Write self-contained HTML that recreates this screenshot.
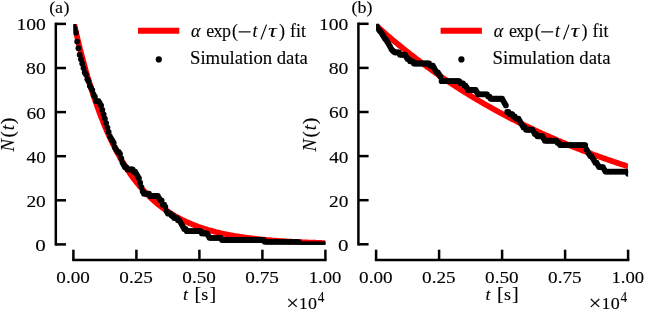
<!DOCTYPE html>
<html><head><meta charset="utf-8"><style>
html,body{margin:0;padding:0;background:#fff;width:646px;height:310px;overflow:hidden}
svg{display:block;will-change:transform}
text{font-family:"Liberation Serif",serif;font-size:17.4px;fill:#000;stroke:#000;stroke-width:0.12px}
.k{stroke:#000;stroke-width:2.5}
</style></head><body>
<svg width="646" height="310" viewBox="0 0 646 310"><line x1="55.8" y1="22.65" x2="55.8" y2="245.65" class="k"/><line x1="55.8" y1="244.40" x2="66.00" y2="244.40" class="k"/><text transform="translate(45.80,250.85) scale(1.0345,1)" text-anchor="end" textLength="10.15" lengthAdjust="spacingAndGlyphs">0</text><line x1="55.8" y1="200.30" x2="66.00" y2="200.30" class="k"/><text transform="translate(45.80,206.75) scale(1.0345,1)" text-anchor="end" textLength="18.75" lengthAdjust="spacingAndGlyphs">20</text><line x1="55.8" y1="156.20" x2="66.00" y2="156.20" class="k"/><text transform="translate(45.80,162.65) scale(1.0345,1)" text-anchor="end" textLength="18.56" lengthAdjust="spacingAndGlyphs">40</text><line x1="55.8" y1="112.10" x2="66.00" y2="112.10" class="k"/><text transform="translate(45.80,118.55) scale(1.0345,1)" text-anchor="end" textLength="18.75" lengthAdjust="spacingAndGlyphs">60</text><line x1="55.8" y1="68.00" x2="66.00" y2="68.00" class="k"/><text transform="translate(45.80,74.45) scale(1.0345,1)" text-anchor="end" textLength="19.04" lengthAdjust="spacingAndGlyphs">80</text><line x1="55.8" y1="23.90" x2="66.00" y2="23.90" class="k"/><text transform="translate(45.80,30.35) scale(1.0345,1)" text-anchor="end" textLength="28.42" lengthAdjust="spacingAndGlyphs">100</text><line x1="72.15" y1="259.9" x2="326.65" y2="259.9" class="k"/><line x1="73.40" y1="259.9" x2="73.40" y2="249.70" class="k"/><text transform="translate(73.10,283.30) scale(1.0345,1)" text-anchor="middle" textLength="32.38" lengthAdjust="spacingAndGlyphs">0.00</text><line x1="136.40" y1="259.9" x2="136.40" y2="249.70" class="k"/><text transform="translate(136.10,283.30) scale(1.0345,1)" text-anchor="middle" textLength="32.38" lengthAdjust="spacingAndGlyphs">0.25</text><line x1="199.40" y1="259.9" x2="199.40" y2="249.70" class="k"/><text transform="translate(199.10,283.30) scale(1.0345,1)" text-anchor="middle" textLength="32.38" lengthAdjust="spacingAndGlyphs">0.50</text><line x1="262.40" y1="259.9" x2="262.40" y2="249.70" class="k"/><text transform="translate(262.10,283.30) scale(1.0345,1)" text-anchor="middle" textLength="32.38" lengthAdjust="spacingAndGlyphs">0.75</text><line x1="325.40" y1="259.9" x2="325.40" y2="249.70" class="k"/><text transform="translate(325.10,283.30) scale(1.0345,1)" text-anchor="middle" textLength="31.61" lengthAdjust="spacingAndGlyphs">1.00</text><clipPath id="ca"><rect x="73.40" y="23.90" width="252.00" height="220.50"/></clipPath><g clip-path="url(#ca)"><polyline points="73.4,20.6 74.2,24.4 75.1,28.1 75.9,31.8 76.8,35.4 77.6,38.9 78.5,42.4 79.3,45.9 80.1,49.2 81.0,52.5 81.8,55.8 82.7,59.0 83.5,62.1 84.4,65.2 85.2,68.3 86.0,71.2 86.9,74.2 87.7,77.1 88.6,79.9 89.4,82.7 90.3,85.4 91.1,88.1 91.9,90.8 92.8,93.4 93.6,96.0 94.5,98.5 95.3,100.9 96.2,103.4 97.0,105.8 97.8,108.1 98.7,110.4 99.5,112.7 100.4,114.9 101.2,117.1 102.1,119.3 102.9,121.4 103.7,123.5 104.6,125.6 105.4,127.6 106.3,129.6 107.1,131.5 108.0,133.4 108.8,135.3 109.6,137.1 110.5,139.0 111.3,140.8 112.2,142.5 113.0,144.2 113.9,145.9 114.7,147.6 115.5,149.3 116.4,150.9 117.2,152.5 118.1,154.0 118.9,155.5 119.8,157.1 120.6,158.5 121.4,160.0 122.3,161.4 123.1,162.8 124.0,164.2 124.8,165.6 125.7,166.9 126.5,168.2 127.3,169.5 128.2,170.8 129.0,172.0 129.9,173.3 130.7,174.5 131.6,175.7 132.4,176.8 133.2,178.0 134.1,179.1 134.9,180.2 135.8,181.3 136.6,182.4 137.5,183.4 138.3,184.4 139.1,185.5 140.0,186.5 140.8,187.4 141.7,188.4 142.5,189.4 143.4,190.3 144.2,191.2 145.0,192.1 145.9,193.0 146.7,193.9 147.6,194.7 148.4,195.6 149.3,196.4 150.1,197.2 150.9,198.0 151.8,198.8 152.6,199.6 153.5,200.3 154.3,201.1 155.2,201.8 156.0,202.5 156.8,203.3 157.7,204.0 158.5,204.6 159.4,205.3 160.2,206.0 161.1,206.6 161.9,207.3 162.7,207.9 163.6,208.5 164.4,209.1 165.3,209.7 166.1,210.3 167.0,210.9 167.8,211.5 168.6,212.0 169.5,212.6 170.3,213.1 171.2,213.6 172.0,214.2 172.9,214.7 173.7,215.2 174.5,215.7 175.4,216.2 176.2,216.6 177.1,217.1 177.9,217.6 178.8,218.0 179.6,218.5 180.4,218.9 181.3,219.3 182.1,219.8 183.0,220.2 183.8,220.6 184.7,221.0 185.5,221.4 186.3,221.8 187.2,222.2 188.0,222.6 188.9,222.9 189.7,223.3 190.6,223.6 191.4,224.0 192.2,224.3 193.1,224.7 193.9,225.0 194.8,225.3 195.6,225.7 196.5,226.0 197.3,226.3 198.1,226.6 199.0,226.9 199.8,227.2 200.7,227.5 201.5,227.8 202.3,228.1 203.2,228.3 204.0,228.6 204.9,228.9 205.7,229.1 206.6,229.4 207.4,229.7 208.2,229.9 209.1,230.2 209.9,230.4 210.8,230.6 211.6,230.9 212.5,231.1 213.3,231.3 214.1,231.5 215.0,231.8 215.8,232.0 216.7,232.2 217.5,232.4 218.4,232.6 219.2,232.8 220.0,233.0 220.9,233.2 221.7,233.4 222.6,233.6 223.4,233.7 224.3,233.9 225.1,234.1 225.9,234.3 226.8,234.5 227.6,234.6 228.5,234.8 229.3,235.0 230.2,235.1 231.0,235.3 231.8,235.4 232.7,235.6 233.5,235.7 234.4,235.9 235.2,236.0 236.1,236.2 236.9,236.3 237.7,236.4 238.6,236.6 239.4,236.7 240.3,236.8 241.1,237.0 242.0,237.1 242.8,237.2 243.6,237.3 244.5,237.5 245.3,237.6 246.2,237.7 247.0,237.8 247.9,237.9 248.7,238.0 249.5,238.1 250.4,238.2 251.2,238.3 252.1,238.4 252.9,238.5 253.8,238.6 254.6,238.7 255.4,238.8 256.3,238.9 257.1,239.0 258.0,239.1 258.8,239.2 259.7,239.3 260.5,239.4 261.3,239.5 262.2,239.6 263.0,239.6 263.9,239.7 264.7,239.8 265.6,239.9 266.4,239.9 267.2,240.0 268.1,240.1 268.9,240.2 269.8,240.2 270.6,240.3 271.5,240.4 272.3,240.5 273.1,240.5 274.0,240.6 274.8,240.6 275.7,240.7 276.5,240.8 277.4,240.8 278.2,240.9 279.0,241.0 279.9,241.0 280.7,241.1 281.6,241.1 282.4,241.2 283.3,241.2 284.1,241.3 284.9,241.3 285.8,241.4 286.6,241.4 287.5,241.5 288.3,241.5 289.2,241.6 290.0,241.6 290.8,241.7 291.7,241.7 292.5,241.8 293.4,241.8 294.2,241.9 295.1,241.9 295.9,242.0 296.7,242.0 297.6,242.0 298.4,242.1 299.3,242.1 300.1,242.2 301.0,242.2 301.8,242.2 302.6,242.3 303.5,242.3 304.3,242.3 305.2,242.4 306.0,242.4 306.9,242.4 307.7,242.5 308.5,242.5 309.4,242.5 310.2,242.6 311.1,242.6 311.9,242.6 312.8,242.7 313.6,242.7 314.4,242.7 315.3,242.7 316.1,242.8 317.0,242.8 317.8,242.8 318.7,242.9 319.5,242.9 320.3,242.9 321.2,242.9 322.0,243.0 322.9,243.0 323.7,243.0 324.6,243.0 325.4,243.1" fill="none" stroke="#f00" stroke-width="5.7"/><circle cx="73.40" cy="23.90" r="2.9"/><circle cx="74.66" cy="28.31" r="2.9"/><circle cx="75.92" cy="32.72" r="2.9"/><circle cx="77.18" cy="41.54" r="2.9"/><circle cx="78.44" cy="48.16" r="2.9"/><circle cx="79.70" cy="54.77" r="2.9"/><circle cx="80.96" cy="59.18" r="2.9"/><circle cx="82.22" cy="63.59" r="2.9"/><circle cx="83.48" cy="68.00" r="2.9"/><circle cx="84.74" cy="72.41" r="2.9"/><circle cx="86.00" cy="74.62" r="2.9"/><circle cx="87.26" cy="79.03" r="2.9"/><circle cx="88.52" cy="81.23" r="2.9"/><circle cx="89.78" cy="85.64" r="2.9"/><circle cx="91.04" cy="87.84" r="2.9"/><circle cx="92.30" cy="90.05" r="2.9"/><circle cx="93.56" cy="94.46" r="2.9"/><circle cx="94.82" cy="96.66" r="2.9"/><circle cx="96.08" cy="101.07" r="2.9"/><circle cx="97.34" cy="101.07" r="2.9"/><circle cx="98.60" cy="101.07" r="2.9"/><circle cx="99.86" cy="103.28" r="2.9"/><circle cx="101.12" cy="105.49" r="2.9"/><circle cx="102.38" cy="109.90" r="2.9"/><circle cx="103.64" cy="114.31" r="2.9"/><circle cx="104.90" cy="118.72" r="2.9"/><circle cx="106.16" cy="123.12" r="2.9"/><circle cx="107.42" cy="127.53" r="2.9"/><circle cx="108.68" cy="131.94" r="2.9"/><circle cx="109.94" cy="136.36" r="2.9"/><circle cx="111.20" cy="138.56" r="2.9"/><circle cx="112.46" cy="140.76" r="2.9"/><circle cx="113.72" cy="142.97" r="2.9"/><circle cx="114.98" cy="147.38" r="2.9"/><circle cx="116.24" cy="149.59" r="2.9"/><circle cx="117.50" cy="151.79" r="2.9"/><circle cx="118.76" cy="151.79" r="2.9"/><circle cx="120.02" cy="154.00" r="2.9"/><circle cx="121.28" cy="158.41" r="2.9"/><circle cx="122.54" cy="162.81" r="2.9"/><circle cx="123.80" cy="165.02" r="2.9"/><circle cx="125.06" cy="167.23" r="2.9"/><circle cx="126.32" cy="167.23" r="2.9"/><circle cx="127.58" cy="169.43" r="2.9"/><circle cx="128.84" cy="169.43" r="2.9"/><circle cx="130.10" cy="169.43" r="2.9"/><circle cx="131.36" cy="169.43" r="2.9"/><circle cx="132.62" cy="169.43" r="2.9"/><circle cx="133.88" cy="171.63" r="2.9"/><circle cx="135.14" cy="171.63" r="2.9"/><circle cx="136.40" cy="173.84" r="2.9"/><circle cx="137.66" cy="176.05" r="2.9"/><circle cx="138.92" cy="178.25" r="2.9"/><circle cx="140.18" cy="182.66" r="2.9"/><circle cx="141.44" cy="187.07" r="2.9"/><circle cx="142.70" cy="191.48" r="2.9"/><circle cx="143.96" cy="193.69" r="2.9"/><circle cx="145.22" cy="193.69" r="2.9"/><circle cx="146.48" cy="193.69" r="2.9"/><circle cx="147.74" cy="193.69" r="2.9"/><circle cx="149.00" cy="193.69" r="2.9"/><circle cx="150.26" cy="195.89" r="2.9"/><circle cx="151.52" cy="195.89" r="2.9"/><circle cx="152.78" cy="195.89" r="2.9"/><circle cx="154.04" cy="195.89" r="2.9"/><circle cx="155.30" cy="195.89" r="2.9"/><circle cx="156.56" cy="195.89" r="2.9"/><circle cx="157.82" cy="195.89" r="2.9"/><circle cx="159.08" cy="198.09" r="2.9"/><circle cx="160.34" cy="200.30" r="2.9"/><circle cx="161.60" cy="200.30" r="2.9"/><circle cx="162.86" cy="204.71" r="2.9"/><circle cx="164.12" cy="204.71" r="2.9"/><circle cx="165.38" cy="206.92" r="2.9"/><circle cx="166.64" cy="211.32" r="2.9"/><circle cx="167.90" cy="213.53" r="2.9"/><circle cx="169.16" cy="213.53" r="2.9"/><circle cx="170.42" cy="213.53" r="2.9"/><circle cx="171.68" cy="215.74" r="2.9"/><circle cx="172.94" cy="215.74" r="2.9"/><circle cx="174.20" cy="217.94" r="2.9"/><circle cx="175.46" cy="217.94" r="2.9"/><circle cx="176.72" cy="217.94" r="2.9"/><circle cx="177.98" cy="220.15" r="2.9"/><circle cx="179.24" cy="220.15" r="2.9"/><circle cx="180.50" cy="222.35" r="2.9"/><circle cx="181.76" cy="224.56" r="2.9"/><circle cx="183.02" cy="226.76" r="2.9"/><circle cx="184.28" cy="228.97" r="2.9"/><circle cx="185.54" cy="228.97" r="2.9"/><circle cx="186.80" cy="231.17" r="2.9"/><circle cx="188.06" cy="231.17" r="2.9"/><circle cx="189.32" cy="231.17" r="2.9"/><circle cx="190.58" cy="231.17" r="2.9"/><circle cx="191.84" cy="231.17" r="2.9"/><circle cx="193.10" cy="231.17" r="2.9"/><circle cx="194.36" cy="231.17" r="2.9"/><circle cx="195.62" cy="231.17" r="2.9"/><circle cx="196.88" cy="231.17" r="2.9"/><circle cx="198.14" cy="231.17" r="2.9"/><circle cx="199.40" cy="231.17" r="2.9"/><circle cx="200.66" cy="231.17" r="2.9"/><circle cx="201.92" cy="233.38" r="2.9"/><circle cx="203.18" cy="233.38" r="2.9"/><circle cx="204.44" cy="233.38" r="2.9"/><circle cx="205.70" cy="233.38" r="2.9"/><circle cx="206.96" cy="233.38" r="2.9"/><circle cx="208.22" cy="235.58" r="2.9"/><circle cx="209.48" cy="237.78" r="2.9"/><circle cx="210.74" cy="237.78" r="2.9"/><circle cx="212.00" cy="237.78" r="2.9"/><circle cx="213.26" cy="237.78" r="2.9"/><circle cx="214.52" cy="237.78" r="2.9"/><circle cx="215.78" cy="237.78" r="2.9"/><circle cx="217.04" cy="237.78" r="2.9"/><circle cx="218.30" cy="237.78" r="2.9"/><circle cx="219.56" cy="237.78" r="2.9"/><circle cx="220.82" cy="237.78" r="2.9"/><circle cx="222.08" cy="239.99" r="2.9"/><circle cx="223.34" cy="239.99" r="2.9"/><circle cx="224.60" cy="239.99" r="2.9"/><circle cx="225.86" cy="239.99" r="2.9"/><circle cx="227.12" cy="239.99" r="2.9"/><circle cx="228.38" cy="239.99" r="2.9"/><circle cx="229.64" cy="239.99" r="2.9"/><circle cx="230.90" cy="239.99" r="2.9"/><circle cx="232.16" cy="239.99" r="2.9"/><circle cx="233.42" cy="239.99" r="2.9"/><circle cx="234.68" cy="239.99" r="2.9"/><circle cx="235.94" cy="239.99" r="2.9"/><circle cx="237.20" cy="239.99" r="2.9"/><circle cx="238.46" cy="239.99" r="2.9"/><circle cx="239.72" cy="239.99" r="2.9"/><circle cx="240.98" cy="239.99" r="2.9"/><circle cx="242.24" cy="239.99" r="2.9"/><circle cx="243.50" cy="239.99" r="2.9"/><circle cx="244.76" cy="239.99" r="2.9"/><circle cx="246.02" cy="239.99" r="2.9"/><circle cx="247.28" cy="239.99" r="2.9"/><circle cx="248.54" cy="239.99" r="2.9"/><circle cx="249.80" cy="239.99" r="2.9"/><circle cx="251.06" cy="239.99" r="2.9"/><circle cx="252.32" cy="239.99" r="2.9"/><circle cx="253.58" cy="239.99" r="2.9"/><circle cx="254.84" cy="239.99" r="2.9"/><circle cx="256.10" cy="239.99" r="2.9"/><circle cx="257.36" cy="239.99" r="2.9"/><circle cx="258.62" cy="239.99" r="2.9"/><circle cx="259.88" cy="239.99" r="2.9"/><circle cx="261.14" cy="239.99" r="2.9"/><circle cx="262.40" cy="239.99" r="2.9"/><circle cx="263.66" cy="239.99" r="2.9"/><circle cx="264.92" cy="242.19" r="2.9"/><circle cx="266.18" cy="242.19" r="2.9"/><circle cx="267.44" cy="242.19" r="2.9"/><circle cx="268.70" cy="242.19" r="2.9"/><circle cx="269.96" cy="242.19" r="2.9"/><circle cx="271.22" cy="242.19" r="2.9"/><circle cx="272.48" cy="242.19" r="2.9"/><circle cx="273.74" cy="242.19" r="2.9"/><circle cx="275.00" cy="242.19" r="2.9"/><circle cx="276.26" cy="242.19" r="2.9"/><circle cx="277.52" cy="242.19" r="2.9"/><circle cx="278.78" cy="242.19" r="2.9"/><circle cx="280.04" cy="242.19" r="2.9"/><circle cx="281.30" cy="242.19" r="2.9"/><circle cx="282.56" cy="242.19" r="2.9"/><circle cx="283.82" cy="242.19" r="2.9"/><circle cx="285.08" cy="242.19" r="2.9"/><circle cx="286.34" cy="242.19" r="2.9"/><circle cx="287.60" cy="242.19" r="2.9"/><circle cx="288.86" cy="242.19" r="2.9"/><circle cx="290.12" cy="242.19" r="2.9"/><circle cx="291.38" cy="242.19" r="2.9"/><circle cx="292.64" cy="242.19" r="2.9"/><circle cx="293.90" cy="242.19" r="2.9"/><circle cx="295.16" cy="242.19" r="2.9"/><circle cx="296.42" cy="242.19" r="2.9"/><circle cx="297.68" cy="242.19" r="2.9"/><circle cx="298.94" cy="242.19" r="2.9"/><circle cx="300.20" cy="244.40" r="2.9"/><circle cx="301.46" cy="244.40" r="2.9"/><circle cx="302.72" cy="244.40" r="2.9"/><circle cx="303.98" cy="244.40" r="2.9"/><circle cx="305.24" cy="244.40" r="2.9"/><circle cx="306.50" cy="244.40" r="2.9"/><circle cx="307.76" cy="244.40" r="2.9"/><circle cx="309.02" cy="244.40" r="2.9"/><circle cx="310.28" cy="244.40" r="2.9"/><circle cx="311.54" cy="244.40" r="2.9"/><circle cx="312.80" cy="244.40" r="2.9"/><circle cx="314.06" cy="244.40" r="2.9"/><circle cx="315.32" cy="244.40" r="2.9"/><circle cx="316.58" cy="244.40" r="2.9"/><circle cx="317.84" cy="244.40" r="2.9"/><circle cx="319.10" cy="244.40" r="2.9"/><circle cx="320.36" cy="244.40" r="2.9"/><circle cx="321.62" cy="244.40" r="2.9"/><circle cx="322.88" cy="244.40" r="2.9"/><circle cx="324.14" cy="244.40" r="2.9"/><circle cx="325.40" cy="244.40" r="2.9"/></g><text transform="translate(182.95,300.00) scale(1.0345,1)" font-style="italic">t</text><text transform="translate(194.40,300.00) scale(1.0345,1)" style="font-size:19.5px">[</text><text transform="translate(201.30,300.00) scale(1.0345,1)">s</text><text transform="translate(209.50,300.00) scale(1.0345,1)" style="font-size:19.5px">]</text><text transform="translate(286.20,310.20) scale(1.1000,1)" style="font-size:20.3px">×</text><text transform="translate(298.80,308.70) scale(1.0345,1)">1</text><text transform="translate(308.05,308.70) scale(1.0345,1)">0</text><text transform="translate(317.80,302.10) scale(0.8800,1)" style="font-size:15.1px">4</text><g transform="translate(13.60,151.5) rotate(-90)"><text transform="translate(0.00,0.00) scale(1.0345,1)" style="font-size:18px" font-style="italic">N</text><text transform="translate(13.90,0.00) scale(1.0345,1)" style="font-size:18px">(</text><text transform="translate(21.25,0.00) scale(1.0345,1)" style="font-size:18px" font-style="italic">t</text><text transform="translate(27.60,0.00) scale(1.0345,1)" style="font-size:18px">)</text></g><text transform="translate(49.30,12.80) scale(1.0345,1)">(</text><text transform="translate(55.00,12.80) scale(1.0345,1)">a</text><text transform="translate(63.40,12.80) scale(1.0345,1)">)</text><line x1="138.0" y1="30.8" x2="179.3" y2="30.8" stroke="#f00" stroke-width="6"/><text transform="translate(191.10,36.80) scale(1.0000,1)" style="font-size:18px" font-style="italic">α</text><text transform="translate(206.35,36.80) scale(1.0000,1)" style="font-size:18px">e</text><text transform="translate(213.50,36.80) scale(1.0000,1)" style="font-size:18px">x</text><text transform="translate(222.00,36.80) scale(1.0000,1)" style="font-size:18px">p</text><text transform="translate(232.10,36.80) scale(1.0000,1)" style="font-size:18px">(</text><rect x="238.60" y="31.3" width="12" height="1.15"/><text transform="translate(252.40,36.80) scale(1.0000,1)" style="font-size:18px" font-style="italic">t</text><line x1="266.50" y1="24.6" x2="260.90" y2="39.5" stroke="#000" stroke-width="1.1"/><text transform="translate(268.20,36.80) scale(1.3000,1)" style="font-size:18px" font-style="italic">τ</text><text transform="translate(278.90,36.80) scale(1.0000,1)" style="font-size:18px">)</text><text transform="translate(290.00,36.80) scale(1.0000,1)" style="font-size:18px">fit</text><circle cx="158.8" cy="59.4" r="3.1"/><text transform="translate(190.00,64.30) scale(1.0000,1)" textLength="117.90" lengthAdjust="spacingAndGlyphs" style="font-size:18px">Simulation data</text><line x1="358.4" y1="22.55" x2="358.4" y2="245.55" class="k"/><line x1="358.4" y1="244.30" x2="368.60" y2="244.30" class="k"/><text transform="translate(348.40,250.75) scale(1.0345,1)" text-anchor="end" textLength="10.15" lengthAdjust="spacingAndGlyphs">0</text><line x1="358.4" y1="200.20" x2="368.60" y2="200.20" class="k"/><text transform="translate(348.40,206.65) scale(1.0345,1)" text-anchor="end" textLength="18.75" lengthAdjust="spacingAndGlyphs">20</text><line x1="358.4" y1="156.10" x2="368.60" y2="156.10" class="k"/><text transform="translate(348.40,162.55) scale(1.0345,1)" text-anchor="end" textLength="18.56" lengthAdjust="spacingAndGlyphs">40</text><line x1="358.4" y1="112.00" x2="368.60" y2="112.00" class="k"/><text transform="translate(348.40,118.45) scale(1.0345,1)" text-anchor="end" textLength="18.75" lengthAdjust="spacingAndGlyphs">60</text><line x1="358.4" y1="67.90" x2="368.60" y2="67.90" class="k"/><text transform="translate(348.40,74.35) scale(1.0345,1)" text-anchor="end" textLength="19.04" lengthAdjust="spacingAndGlyphs">80</text><line x1="358.4" y1="23.80" x2="368.60" y2="23.80" class="k"/><text transform="translate(348.40,30.25) scale(1.0345,1)" text-anchor="end" textLength="28.42" lengthAdjust="spacingAndGlyphs">100</text><line x1="374.85" y1="259.9" x2="629.35" y2="259.9" class="k"/><line x1="376.10" y1="259.9" x2="376.10" y2="249.70" class="k"/><text transform="translate(375.80,283.30) scale(1.0345,1)" text-anchor="middle" textLength="32.38" lengthAdjust="spacingAndGlyphs">0.00</text><line x1="439.10" y1="259.9" x2="439.10" y2="249.70" class="k"/><text transform="translate(438.80,283.30) scale(1.0345,1)" text-anchor="middle" textLength="32.38" lengthAdjust="spacingAndGlyphs">0.25</text><line x1="502.10" y1="259.9" x2="502.10" y2="249.70" class="k"/><text transform="translate(501.80,283.30) scale(1.0345,1)" text-anchor="middle" textLength="32.38" lengthAdjust="spacingAndGlyphs">0.50</text><line x1="565.10" y1="259.9" x2="565.10" y2="249.70" class="k"/><text transform="translate(564.80,283.30) scale(1.0345,1)" text-anchor="middle" textLength="32.38" lengthAdjust="spacingAndGlyphs">0.75</text><line x1="628.10" y1="259.9" x2="628.10" y2="249.70" class="k"/><text transform="translate(627.80,283.30) scale(1.0345,1)" text-anchor="middle" textLength="31.61" lengthAdjust="spacingAndGlyphs">1.00</text><clipPath id="cb"><rect x="376.10" y="23.80" width="252.00" height="220.50"/></clipPath><g clip-path="url(#cb)"><polyline points="376.1,25.5 376.9,26.2 377.8,27.0 378.6,27.7 379.5,28.5 380.3,29.2 381.2,30.0 382.0,30.7 382.8,31.4 383.7,32.2 384.5,32.9 385.4,33.6 386.2,34.4 387.1,35.1 387.9,35.8 388.7,36.5 389.6,37.2 390.4,38.0 391.3,38.7 392.1,39.4 393.0,40.1 393.8,40.8 394.6,41.5 395.5,42.2 396.3,42.9 397.2,43.6 398.0,44.3 398.9,45.0 399.7,45.7 400.5,46.3 401.4,47.0 402.2,47.7 403.1,48.4 403.9,49.1 404.8,49.7 405.6,50.4 406.4,51.1 407.3,51.7 408.1,52.4 409.0,53.1 409.8,53.7 410.7,54.4 411.5,55.0 412.3,55.7 413.2,56.3 414.0,57.0 414.9,57.6 415.7,58.3 416.6,58.9 417.4,59.6 418.2,60.2 419.1,60.8 419.9,61.5 420.8,62.1 421.6,62.7 422.5,63.4 423.3,64.0 424.1,64.6 425.0,65.2 425.8,65.8 426.7,66.5 427.5,67.1 428.4,67.7 429.2,68.3 430.0,68.9 430.9,69.5 431.7,70.1 432.6,70.7 433.4,71.3 434.3,71.9 435.1,72.5 435.9,73.1 436.8,73.7 437.6,74.3 438.5,74.9 439.3,75.4 440.2,76.0 441.0,76.6 441.8,77.2 442.7,77.8 443.5,78.3 444.4,78.9 445.2,79.5 446.1,80.0 446.9,80.6 447.7,81.2 448.6,81.7 449.4,82.3 450.3,82.9 451.1,83.4 452.0,84.0 452.8,84.5 453.6,85.1 454.5,85.6 455.3,86.2 456.2,86.7 457.0,87.3 457.9,87.8 458.7,88.3 459.5,88.9 460.4,89.4 461.2,89.9 462.1,90.5 462.9,91.0 463.8,91.5 464.6,92.1 465.4,92.6 466.3,93.1 467.1,93.6 468.0,94.2 468.8,94.7 469.7,95.2 470.5,95.7 471.3,96.2 472.2,96.7 473.0,97.2 473.9,97.7 474.7,98.3 475.6,98.8 476.4,99.3 477.2,99.8 478.1,100.3 478.9,100.8 479.8,101.2 480.6,101.7 481.5,102.2 482.3,102.7 483.1,103.2 484.0,103.7 484.8,104.2 485.7,104.7 486.5,105.1 487.4,105.6 488.2,106.1 489.0,106.6 489.9,107.1 490.7,107.5 491.6,108.0 492.4,108.5 493.3,108.9 494.1,109.4 494.9,109.9 495.8,110.3 496.6,110.8 497.5,111.3 498.3,111.7 499.2,112.2 500.0,112.6 500.8,113.1 501.7,113.5 502.5,114.0 503.4,114.4 504.2,114.9 505.0,115.3 505.9,115.8 506.7,116.2 507.6,116.7 508.4,117.1 509.3,117.5 510.1,118.0 510.9,118.4 511.8,118.9 512.6,119.3 513.5,119.7 514.3,120.1 515.2,120.6 516.0,121.0 516.8,121.4 517.7,121.9 518.5,122.3 519.4,122.7 520.2,123.1 521.1,123.5 521.9,123.9 522.7,124.4 523.6,124.8 524.4,125.2 525.3,125.6 526.1,126.0 527.0,126.4 527.8,126.8 528.6,127.2 529.5,127.6 530.3,128.0 531.2,128.4 532.0,128.8 532.9,129.2 533.7,129.6 534.5,130.0 535.4,130.4 536.2,130.8 537.1,131.2 537.9,131.6 538.8,132.0 539.6,132.4 540.4,132.8 541.3,133.1 542.1,133.5 543.0,133.9 543.8,134.3 544.7,134.7 545.5,135.0 546.3,135.4 547.2,135.8 548.0,136.2 548.9,136.5 549.7,136.9 550.6,137.3 551.4,137.7 552.2,138.0 553.1,138.4 553.9,138.8 554.8,139.1 555.6,139.5 556.5,139.8 557.3,140.2 558.1,140.6 559.0,140.9 559.8,141.3 560.7,141.6 561.5,142.0 562.4,142.3 563.2,142.7 564.0,143.0 564.9,143.4 565.7,143.7 566.6,144.1 567.4,144.4 568.3,144.8 569.1,145.1 569.9,145.5 570.8,145.8 571.6,146.1 572.5,146.5 573.3,146.8 574.2,147.2 575.0,147.5 575.8,147.8 576.7,148.2 577.5,148.5 578.4,148.8 579.2,149.2 580.1,149.5 580.9,149.8 581.7,150.1 582.6,150.5 583.4,150.8 584.3,151.1 585.1,151.4 586.0,151.7 586.8,152.1 587.6,152.4 588.5,152.7 589.3,153.0 590.2,153.3 591.0,153.6 591.9,154.0 592.7,154.3 593.5,154.6 594.4,154.9 595.2,155.2 596.1,155.5 596.9,155.8 597.8,156.1 598.6,156.4 599.4,156.7 600.3,157.0 601.1,157.3 602.0,157.6 602.8,157.9 603.7,158.2 604.5,158.5 605.3,158.8 606.2,159.1 607.0,159.4 607.9,159.7 608.7,160.0 609.6,160.3 610.4,160.6 611.2,160.9 612.1,161.1 612.9,161.4 613.8,161.7 614.6,162.0 615.5,162.3 616.3,162.6 617.1,162.9 618.0,163.1 618.8,163.4 619.7,163.7 620.5,164.0 621.4,164.3 622.2,164.5 623.0,164.8 623.9,165.1 624.7,165.3 625.6,165.6 626.4,165.9 627.3,166.2 628.1,166.4" fill="none" stroke="#f00" stroke-width="5.7"/><circle cx="376.10" cy="23.80" r="2.9"/><circle cx="377.36" cy="27.00" r="2.9"/><circle cx="378.62" cy="29.60" r="2.9"/><circle cx="379.88" cy="31.00" r="2.9"/><circle cx="381.14" cy="32.30" r="2.9"/><circle cx="382.40" cy="34.50" r="2.9"/><circle cx="383.66" cy="36.50" r="2.9"/><circle cx="384.92" cy="38.60" r="2.9"/><circle cx="386.18" cy="40.00" r="2.9"/><circle cx="387.44" cy="42.00" r="2.9"/><circle cx="388.70" cy="43.90" r="2.9"/><circle cx="389.96" cy="46.30" r="2.9"/><circle cx="391.22" cy="48.80" r="2.9"/><circle cx="392.48" cy="50.50" r="2.9"/><circle cx="393.74" cy="51.50" r="2.9"/><circle cx="395.00" cy="52.47" r="2.9"/><circle cx="396.26" cy="52.47" r="2.9"/><circle cx="397.52" cy="52.47" r="2.9"/><circle cx="398.78" cy="52.47" r="2.9"/><circle cx="400.04" cy="54.67" r="2.9"/><circle cx="401.30" cy="54.67" r="2.9"/><circle cx="402.56" cy="54.67" r="2.9"/><circle cx="403.82" cy="54.67" r="2.9"/><circle cx="405.08" cy="54.67" r="2.9"/><circle cx="406.34" cy="56.88" r="2.9"/><circle cx="407.60" cy="59.08" r="2.9"/><circle cx="408.86" cy="59.08" r="2.9"/><circle cx="410.12" cy="61.28" r="2.9"/><circle cx="411.38" cy="61.28" r="2.9"/><circle cx="412.64" cy="61.28" r="2.9"/><circle cx="413.90" cy="63.49" r="2.9"/><circle cx="415.16" cy="63.49" r="2.9"/><circle cx="416.42" cy="63.49" r="2.9"/><circle cx="417.68" cy="63.49" r="2.9"/><circle cx="418.94" cy="63.49" r="2.9"/><circle cx="420.20" cy="63.49" r="2.9"/><circle cx="421.46" cy="63.49" r="2.9"/><circle cx="422.72" cy="63.49" r="2.9"/><circle cx="423.98" cy="63.49" r="2.9"/><circle cx="425.24" cy="63.49" r="2.9"/><circle cx="426.50" cy="63.49" r="2.9"/><circle cx="427.76" cy="63.49" r="2.9"/><circle cx="429.02" cy="63.49" r="2.9"/><circle cx="430.28" cy="65.69" r="2.9"/><circle cx="431.54" cy="65.69" r="2.9"/><circle cx="432.80" cy="65.69" r="2.9"/><circle cx="434.06" cy="67.90" r="2.9"/><circle cx="435.32" cy="70.11" r="2.9"/><circle cx="436.58" cy="72.31" r="2.9"/><circle cx="437.84" cy="72.31" r="2.9"/><circle cx="439.10" cy="74.52" r="2.9"/><circle cx="440.36" cy="76.72" r="2.9"/><circle cx="441.62" cy="81.13" r="2.9"/><circle cx="442.88" cy="81.13" r="2.9"/><circle cx="444.14" cy="81.13" r="2.9"/><circle cx="445.40" cy="81.13" r="2.9"/><circle cx="446.66" cy="81.13" r="2.9"/><circle cx="447.92" cy="81.13" r="2.9"/><circle cx="449.18" cy="81.13" r="2.9"/><circle cx="450.44" cy="81.13" r="2.9"/><circle cx="451.70" cy="81.13" r="2.9"/><circle cx="452.96" cy="81.13" r="2.9"/><circle cx="454.22" cy="81.13" r="2.9"/><circle cx="455.48" cy="81.13" r="2.9"/><circle cx="456.74" cy="81.13" r="2.9"/><circle cx="458.00" cy="81.13" r="2.9"/><circle cx="459.26" cy="81.13" r="2.9"/><circle cx="460.52" cy="83.34" r="2.9"/><circle cx="461.78" cy="83.34" r="2.9"/><circle cx="463.04" cy="83.34" r="2.9"/><circle cx="464.30" cy="85.54" r="2.9"/><circle cx="465.56" cy="85.54" r="2.9"/><circle cx="466.82" cy="87.75" r="2.9"/><circle cx="468.08" cy="89.95" r="2.9"/><circle cx="469.34" cy="89.95" r="2.9"/><circle cx="470.60" cy="89.95" r="2.9"/><circle cx="471.86" cy="89.95" r="2.9"/><circle cx="473.12" cy="89.95" r="2.9"/><circle cx="474.38" cy="89.95" r="2.9"/><circle cx="475.64" cy="89.95" r="2.9"/><circle cx="476.90" cy="92.16" r="2.9"/><circle cx="478.16" cy="94.36" r="2.9"/><circle cx="479.42" cy="94.36" r="2.9"/><circle cx="480.68" cy="94.36" r="2.9"/><circle cx="481.94" cy="94.36" r="2.9"/><circle cx="483.20" cy="94.36" r="2.9"/><circle cx="484.46" cy="94.36" r="2.9"/><circle cx="485.72" cy="94.36" r="2.9"/><circle cx="486.98" cy="94.36" r="2.9"/><circle cx="488.24" cy="96.56" r="2.9"/><circle cx="489.50" cy="96.56" r="2.9"/><circle cx="490.76" cy="98.77" r="2.9"/><circle cx="492.02" cy="98.77" r="2.9"/><circle cx="493.28" cy="98.77" r="2.9"/><circle cx="494.54" cy="98.77" r="2.9"/><circle cx="495.80" cy="98.77" r="2.9"/><circle cx="497.06" cy="98.77" r="2.9"/><circle cx="498.32" cy="98.77" r="2.9"/><circle cx="499.58" cy="98.77" r="2.9"/><circle cx="500.84" cy="98.77" r="2.9"/><circle cx="502.10" cy="98.77" r="2.9"/><circle cx="503.36" cy="100.97" r="2.9"/><circle cx="504.62" cy="103.18" r="2.9"/><circle cx="505.88" cy="105.39" r="2.9"/><circle cx="507.14" cy="112.00" r="2.9"/><circle cx="508.40" cy="112.00" r="2.9"/><circle cx="509.66" cy="114.21" r="2.9"/><circle cx="510.92" cy="114.21" r="2.9"/><circle cx="512.18" cy="114.21" r="2.9"/><circle cx="513.44" cy="116.41" r="2.9"/><circle cx="514.70" cy="116.41" r="2.9"/><circle cx="515.96" cy="118.62" r="2.9"/><circle cx="517.22" cy="118.62" r="2.9"/><circle cx="518.48" cy="118.62" r="2.9"/><circle cx="519.74" cy="120.82" r="2.9"/><circle cx="521.00" cy="123.03" r="2.9"/><circle cx="522.26" cy="125.23" r="2.9"/><circle cx="523.52" cy="127.44" r="2.9"/><circle cx="524.78" cy="127.44" r="2.9"/><circle cx="526.04" cy="129.64" r="2.9"/><circle cx="527.30" cy="129.64" r="2.9"/><circle cx="528.56" cy="129.64" r="2.9"/><circle cx="529.82" cy="129.64" r="2.9"/><circle cx="531.08" cy="129.64" r="2.9"/><circle cx="532.34" cy="129.64" r="2.9"/><circle cx="533.60" cy="131.85" r="2.9"/><circle cx="534.86" cy="134.05" r="2.9"/><circle cx="536.12" cy="134.05" r="2.9"/><circle cx="537.38" cy="136.25" r="2.9"/><circle cx="538.64" cy="136.25" r="2.9"/><circle cx="539.90" cy="136.25" r="2.9"/><circle cx="541.16" cy="136.25" r="2.9"/><circle cx="542.42" cy="136.25" r="2.9"/><circle cx="543.68" cy="138.46" r="2.9"/><circle cx="544.94" cy="140.67" r="2.9"/><circle cx="546.20" cy="140.67" r="2.9"/><circle cx="547.46" cy="140.67" r="2.9"/><circle cx="548.72" cy="140.67" r="2.9"/><circle cx="549.98" cy="140.67" r="2.9"/><circle cx="551.24" cy="140.67" r="2.9"/><circle cx="552.50" cy="140.67" r="2.9"/><circle cx="553.76" cy="140.67" r="2.9"/><circle cx="555.02" cy="140.67" r="2.9"/><circle cx="556.28" cy="140.67" r="2.9"/><circle cx="557.54" cy="142.87" r="2.9"/><circle cx="558.80" cy="142.87" r="2.9"/><circle cx="560.06" cy="145.07" r="2.9"/><circle cx="561.32" cy="145.07" r="2.9"/><circle cx="562.58" cy="145.07" r="2.9"/><circle cx="563.84" cy="145.07" r="2.9"/><circle cx="565.10" cy="145.07" r="2.9"/><circle cx="566.36" cy="145.07" r="2.9"/><circle cx="567.62" cy="145.07" r="2.9"/><circle cx="568.88" cy="145.07" r="2.9"/><circle cx="570.14" cy="145.07" r="2.9"/><circle cx="571.40" cy="145.07" r="2.9"/><circle cx="572.66" cy="145.07" r="2.9"/><circle cx="573.92" cy="145.07" r="2.9"/><circle cx="575.18" cy="145.07" r="2.9"/><circle cx="576.44" cy="145.07" r="2.9"/><circle cx="577.70" cy="145.07" r="2.9"/><circle cx="578.96" cy="145.07" r="2.9"/><circle cx="580.22" cy="145.07" r="2.9"/><circle cx="581.48" cy="145.07" r="2.9"/><circle cx="582.74" cy="145.07" r="2.9"/><circle cx="584.00" cy="145.07" r="2.9"/><circle cx="585.26" cy="145.07" r="2.9"/><circle cx="586.52" cy="149.49" r="2.9"/><circle cx="587.78" cy="151.69" r="2.9"/><circle cx="589.04" cy="153.90" r="2.9"/><circle cx="590.30" cy="156.10" r="2.9"/><circle cx="591.56" cy="156.10" r="2.9"/><circle cx="592.82" cy="158.31" r="2.9"/><circle cx="594.08" cy="160.51" r="2.9"/><circle cx="595.34" cy="162.72" r="2.9"/><circle cx="596.60" cy="162.72" r="2.9"/><circle cx="597.86" cy="164.92" r="2.9"/><circle cx="599.12" cy="167.12" r="2.9"/><circle cx="600.38" cy="167.12" r="2.9"/><circle cx="601.64" cy="167.12" r="2.9"/><circle cx="602.90" cy="167.12" r="2.9"/><circle cx="604.16" cy="169.33" r="2.9"/><circle cx="605.42" cy="171.54" r="2.9"/><circle cx="606.68" cy="171.54" r="2.9"/><circle cx="607.94" cy="171.54" r="2.9"/><circle cx="609.20" cy="171.54" r="2.9"/><circle cx="610.46" cy="171.54" r="2.9"/><circle cx="611.72" cy="171.54" r="2.9"/><circle cx="612.98" cy="171.54" r="2.9"/><circle cx="614.24" cy="171.54" r="2.9"/><circle cx="615.50" cy="171.54" r="2.9"/><circle cx="616.76" cy="171.54" r="2.9"/><circle cx="618.02" cy="171.54" r="2.9"/><circle cx="619.28" cy="171.54" r="2.9"/><circle cx="620.54" cy="171.54" r="2.9"/><circle cx="621.80" cy="171.54" r="2.9"/><circle cx="623.06" cy="171.54" r="2.9"/><circle cx="624.32" cy="171.54" r="2.9"/><circle cx="625.58" cy="171.54" r="2.9"/><circle cx="626.84" cy="171.54" r="2.9"/><circle cx="628.10" cy="173.74" r="2.9"/></g><text transform="translate(485.55,300.00) scale(1.0345,1)" font-style="italic">t</text><text transform="translate(497.00,300.00) scale(1.0345,1)" style="font-size:19.5px">[</text><text transform="translate(503.90,300.00) scale(1.0345,1)">s</text><text transform="translate(512.10,300.00) scale(1.0345,1)" style="font-size:19.5px">]</text><text transform="translate(588.80,310.20) scale(1.1000,1)" style="font-size:20.3px">×</text><text transform="translate(601.40,308.70) scale(1.0345,1)">1</text><text transform="translate(610.65,308.70) scale(1.0345,1)">0</text><text transform="translate(620.40,302.10) scale(0.8800,1)" style="font-size:15.1px">4</text><g transform="translate(316.20,151.5) rotate(-90)"><text transform="translate(0.00,0.00) scale(1.0345,1)" style="font-size:18px" font-style="italic">N</text><text transform="translate(13.90,0.00) scale(1.0345,1)" style="font-size:18px">(</text><text transform="translate(21.25,0.00) scale(1.0345,1)" style="font-size:18px" font-style="italic">t</text><text transform="translate(27.60,0.00) scale(1.0345,1)" style="font-size:18px">)</text></g><text transform="translate(351.50,12.80) scale(1.0345,1)">(</text><text transform="translate(357.50,12.80) scale(1.0345,1)">b</text><text transform="translate(366.50,12.80) scale(1.0345,1)">)</text><line x1="440.6" y1="30.8" x2="481.90000000000003" y2="30.8" stroke="#f00" stroke-width="6"/><text transform="translate(493.70,36.80) scale(1.0000,1)" style="font-size:18px" font-style="italic">α</text><text transform="translate(508.95,36.80) scale(1.0000,1)" style="font-size:18px">e</text><text transform="translate(516.10,36.80) scale(1.0000,1)" style="font-size:18px">x</text><text transform="translate(524.60,36.80) scale(1.0000,1)" style="font-size:18px">p</text><text transform="translate(534.70,36.80) scale(1.0000,1)" style="font-size:18px">(</text><rect x="541.20" y="31.3" width="12" height="1.15"/><text transform="translate(555.00,36.80) scale(1.0000,1)" style="font-size:18px" font-style="italic">t</text><line x1="569.10" y1="24.6" x2="563.50" y2="39.5" stroke="#000" stroke-width="1.1"/><text transform="translate(570.80,36.80) scale(1.3000,1)" style="font-size:18px" font-style="italic">τ</text><text transform="translate(581.50,36.80) scale(1.0000,1)" style="font-size:18px">)</text><text transform="translate(592.60,36.80) scale(1.0000,1)" style="font-size:18px">fit</text><circle cx="461.4" cy="59.4" r="3.1"/><text transform="translate(492.60,64.30) scale(1.0000,1)" textLength="117.90" lengthAdjust="spacingAndGlyphs" style="font-size:18px">Simulation data</text></svg>
</body></html>
